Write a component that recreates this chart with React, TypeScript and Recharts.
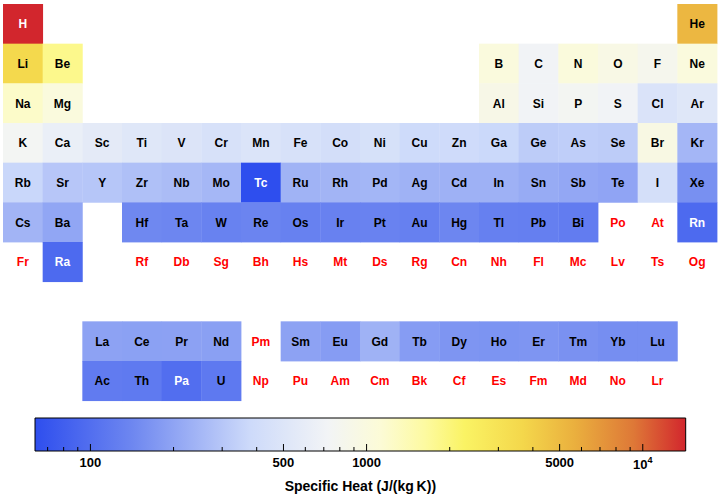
import React from 'react';
import { ScatterChart, Scatter, XAxis, YAxis, ComposedChart, ReferenceArea } from 'recharts';

// element symbols by atomic number
const SYMBOLS = [
  'H', 'He', 'Li', 'Be', 'B', 'C', 'N', 'O', 'F', 'Ne',
  'Na', 'Mg', 'Al', 'Si', 'P', 'S', 'Cl', 'Ar', 'K', 'Ca',
  'Sc', 'Ti', 'V', 'Cr', 'Mn', 'Fe', 'Co', 'Ni', 'Cu', 'Zn',
  'Ga', 'Ge', 'As', 'Se', 'Br', 'Kr', 'Rb', 'Sr', 'Y', 'Zr',
  'Nb', 'Mo', 'Tc', 'Ru', 'Rh', 'Pd', 'Ag', 'Cd', 'In', 'Sn',
  'Sb', 'Te', 'I', 'Xe', 'Cs', 'Ba', 'La', 'Ce', 'Pr', 'Nd',
  'Pm', 'Sm', 'Eu', 'Gd', 'Tb', 'Dy', 'Ho', 'Er', 'Tm', 'Yb',
  'Lu', 'Hf', 'Ta', 'W', 'Re', 'Os', 'Ir', 'Pt', 'Au', 'Hg',
  'Tl', 'Pb', 'Bi', 'Po', 'At', 'Rn', 'Fr', 'Ra', 'Ac', 'Th',
  'Pa', 'U', 'Np', 'Pu', 'Am', 'Cm', 'Bk', 'Cf', 'Es', 'Fm',
  'Md', 'No', 'Lr', 'Rf', 'Db', 'Sg', 'Bh', 'Hs', 'Mt', 'Ds',
  'Rg', 'Cn', 'Nh', 'Fl', 'Mc', 'Lv', 'Ts', 'Og',
];

// specific heat, J/(kg K); null = no data
const SPECIFIC_HEAT: (number | null)[] = [
  14304, 5193.1, 3570, 1820, 1026, 710, 1040, 919, 824, 1030,
  1230, 1020, 897, 705, 769.7, 705, 478.2, 520.33, 757, 631,
  567, 520, 489, 448, 479, 449, 421, 445, 384.4, 388,
  371, 321.4, 328, 321.2, 947.3, 248.05, 364, 300, 298, 278,
  265, 251, 63, 238, 242, 246, 235, 232, 233, 217,
  207, 201, 429, 158.32, 242, 204, 195, 192, 193, 190,
  null, 196, 182, 236, 182, 167, 165, 168, 160, 154,
  154, 144, 140, 132, 137, 130, 131, 133, 129.1, 139.5,
  129, 127, 122, null, null, 93.65, null, 94, 120, 118,
  99.1, 116, null, null, null, null, null, null, null, null,
  null, null, null, null, null, null, null, null, null, null,
  null, null, null, null, null, null, null, null,
];

const COLORBAR_TICKS = [70, 80, 90, 100, 200, 300, 400, 500, 600, 700, 800, 900,
  1000, 2000, 3000, 4000, 5000, 6000, 7000, 8000, 9000, 10000];
const COLORBAR_LABELS = [100, 500, 1000, 5000, 10000];

const GRADIENT: [number, string][] = [
  [0, '#2e4eee'],
  [0.15, '#6e87f0'],
  [0.33, '#cddafa'],
  [0.45, '#f2f4f6'],
  [0.53, '#fcfbd7'],
  [0.6, '#fdfaa0'],
  [0.66, '#faf364'],
  [0.75, '#f4d74b'],
  [0.83, '#eaaf3e'],
  [0.92, '#de7837'],
  [1, '#d2262d'],
];

const FONT = '"Liberation Sans", Arial, Helvetica, sans-serif';

const W = 720;
const MAIN_H = 405;
const MAIN_MARGIN = { top: 4, right: 3, bottom: 4.33, left: 3 };
const CELL_W = (W - MAIN_MARGIN.left - MAIN_MARGIN.right) / 18;
const CELL_H = (MAIN_H - MAIN_MARGIN.top - MAIN_MARGIN.bottom) / 10;

const known = SPECIFIC_HEAT.filter((v): v is number => v != null);
const MIN = Math.min(...known);
const MAX = Math.max(...known);

function hexToRgb(h: string) {
  return [1, 3, 5].map((i) => parseInt(h.slice(i, i + 2), 16));
}

function colorFor(v: number) {
  const t = (Math.log(v) - Math.log(MIN)) / (Math.log(MAX) - Math.log(MIN));
  for (let i = 1; i < GRADIENT.length; i++) {
    const [t1, c1] = GRADIENT[i];
    const [t0, c0] = GRADIENT[i - 1];
    if (t <= t1) {
      const f = (t - t0) / (t1 - t0);
      const a = hexToRgb(c0);
      const b = hexToRgb(c1);
      const rgb = a.map((x, k) => Math.round(x + (b[k] - x) * f));
      return `rgb(${rgb.join(',')})`;
    }
  }
  return GRADIENT[GRADIENT.length - 1][1];
}

// group / row in the table layout (lanthanides and actinides on rows 9, 10)
function position(z: number): [number, number] {
  if (z === 1) return [1, 1];
  if (z === 2) return [18, 1];
  if (z <= 18) {
    const row = z <= 10 ? 2 : 3;
    const i = z - (row === 2 ? 2 : 10);
    return [i <= 2 ? i : i + 10, row];
  }
  if (z <= 36) return [z - 18, 4];
  if (z <= 54) return [z - 36, 5];
  if (z <= 56) return [z - 54, 6];
  if (z <= 71) return [z - 54, 9];
  if (z <= 86) return [z - 68, 6];
  if (z <= 88) return [z - 86, 7];
  if (z <= 103) return [z - 86, 10];
  return [z - 100, 7];
}

const elements = SYMBOLS.map((symbol, i) => {
  const [col, row] = position(i + 1);
  return { symbol, col, row, heat: SPECIFIC_HEAT[i] };
});

const ElementCell = (props: any) => {
  const { cx, cy, payload } = props;
  const heat = payload.heat as number | null;
  let textColor = '#ff0000';
  if (heat != null) textColor = heat < 100 || heat > 10000 ? '#ffffff' : '#000000';
  return (
    <g>
      {heat != null && (
        <rect
          x={cx - CELL_W / 2}
          y={cy - CELL_H / 2}
          width={CELL_W + 0.4}
          height={CELL_H + 0.4}
          fill={colorFor(heat)}
        />
      )}
      <text x={cx} y={cy + 4.5} textAnchor="middle" fontFamily={FONT} fontWeight="bold" fontSize={12} fill={textColor}>
        {payload.symbol}
      </text>
    </g>
  );
};

const ColorbarTick = (props: any) => {
  const { x, y, payload } = props;
  const v = payload.value as number;
  const major = COLORBAR_LABELS.includes(v);
  return (
    <g>
      <line x1={x} x2={x} y1={y} y2={y - (major ? 7 : 4)} stroke="#000" strokeWidth={1} />
      {major && v !== 10000 && (
        <text x={x} y={y + 15.5} textAnchor="middle" fontFamily={FONT} fontWeight="bold" fontSize={13} fill="#000">
          {v}
        </text>
      )}
      {major && v === 10000 && (
        <text x={x} y={y + 18} textAnchor="middle" fontFamily={FONT} fontWeight="bold" fontSize={13} fill="#000">
          10
          <tspan fontSize={9} dy={-6}>4</tspan>
        </text>
      )}
    </g>
  );
};

const App: React.FC = () => {
  const barData = [{ v: MIN, y: 0 }, { v: MAX, y: 1 }];
  return (
    <div style={{ position: 'absolute', left: 0, top: 0, width: W, height: 498, background: '#fff' }}>
      <ScatterChart width={W} height={MAIN_H} margin={MAIN_MARGIN}>
        <XAxis type="number" dataKey="col" domain={[0.5, 18.5]} hide />
        <YAxis type="number" dataKey="row" domain={[0.5, 10.5]} reversed hide />
        <Scatter data={elements} shape={ElementCell} isAnimationActive={false} />
      </ScatterChart>
      <div style={{ position: 'absolute', left: 0, top: MAIN_H }}>
        <ComposedChart width={W} height={93} data={barData} margin={{ top: 13, right: 34.3, bottom: 0, left: 35 }}>
          <defs>
            <linearGradient id="heatGradient" x1="0" y1="0" x2="1" y2="0">
              {GRADIENT.map(([t, c]) => (
                <stop key={t} offset={t} stopColor={c} />
              ))}
            </linearGradient>
          </defs>
          <YAxis type="number" dataKey="y" domain={[0, 1]} hide />
          <ReferenceArea x1={MIN} x2={MAX} fill="url(#heatGradient)" fillOpacity={1} stroke="#000" strokeWidth={1} ifOverflow="extendDomain" />
          <XAxis
            type="number"
            dataKey="v"
            scale="log"
            domain={[MIN, MAX]}
            allowDataOverflow
            ticks={COLORBAR_TICKS}
            interval={0}
            height={47}
            axisLine={false}
            tickLine={false}
            tickSize={0}
            tickMargin={0}
            tick={<ColorbarTick />}
            label={{
              content: (p: any) => (
                <text
                  x={p.viewBox.x + p.viewBox.width / 2}
                  y={p.viewBox.y + 40}
                  textAnchor="middle"
                  fontFamily={FONT}
                  fontWeight="bold"
                  fontSize={14}
                  fill="#000"
                >
                  Specific Heat (J/(kg{'\u2009'}K))
                </text>
              ),
            }}
          />
        </ComposedChart>
      </div>
    </div>
  );
};

export default App;
